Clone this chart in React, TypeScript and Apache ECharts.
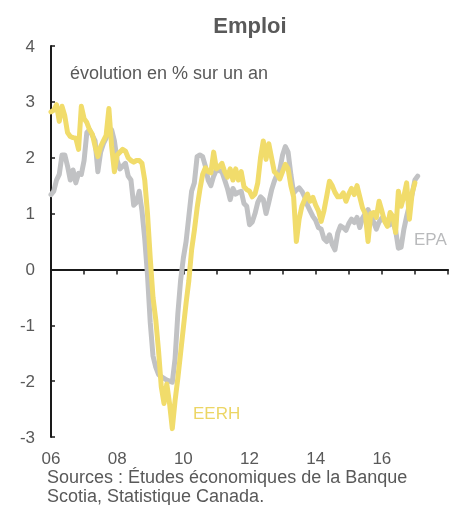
import React, { useEffect, useRef } from "react";
import * as echarts from "echarts";

// Monthly data, starting January 2006
const startYear = 2006;
const epa: number[] = [
  1.34, 1.4, 1.6, 1.7, 2.05, 2.05, 1.85, 1.6, 1.78, 1.55, 1.72, 1.7,
  1.95, 2.45, 2.5, 2.4, 2.3, 1.75, 2.1, 2.25, 2.35, 2.5, 2.5, 2.3,
  1.95, 1.8, 1.85, 1.9, 1.67, 1.6, 1.15, 1.2, 1.4, 1.05, 0.55, -0.1,
  -0.95, -1.55, -1.75, -1.88, -1.92, -1.95, -1.98, -2.0, -2.02, -1.6, -0.8, -0.2,
  0.2, 0.5, 0.95, 1.4, 1.55, 2.02, 2.05, 2.02, 1.85, 1.6, 1.5, 1.67,
  1.78, 1.77, 1.75, 1.6, 1.45, 1.25, 1.45, 1.35, 1.38, 1.4, 1.18, 1.13,
  0.8, 0.85, 1.0, 1.2, 1.3, 1.25, 1.0, 1.2, 1.42, 1.58, 1.7, 1.78,
  2.05, 2.2, 2.1, 1.7, 1.37, 1.42, 1.46, 1.4, 1.3, 1.15, 1.05, 0.95,
  0.88, 0.75, 0.72, 0.55, 0.5, 0.62, 0.45, 0.35, 0.65, 0.78, 0.75, 0.7,
  0.82, 0.9, 0.84, 0.93, 0.75, 0.92, 1.0, 1.07, 0.95, 0.85, 0.72, 0.85,
  0.92, 0.9, 0.84, 0.8, 0.86, 0.7, 0.38, 0.4, 0.72, 0.95, 1.15, 1.35,
  1.6, 1.67,
];
const eerh: number[] = [
  2.82, 2.85, 2.95, 2.65, 2.92, 2.75, 2.45, 2.38, 2.36, 2.35, 2.15, 2.92,
  2.7, 2.63, 2.5, 2.42, 2.2, 2.02, 2.2, 2.3, 2.4, 2.88, 2.2, 1.75,
  2.05, 2.1, 2.15, 2.12, 2.0, 1.95, 1.92, 1.95, 1.95, 1.9, 1.6, 1.0,
  0.2, -0.5, -0.9, -1.45, -2.1, -2.4, -2.05, -2.4, -2.85, -2.35, -1.95, -1.5,
  -1.05, -0.6, -0.2, 0.35, 0.7, 1.1, 1.43, 1.7, 1.82, 1.75, 1.73, 2.1,
  1.8, 1.84, 1.9, 1.75, 1.65, 1.8, 1.6, 1.8, 1.6, 1.75, 1.48, 1.43,
  1.4, 1.3, 1.35, 1.55, 2.0, 2.3, 1.97, 2.25, 2.0, 1.75, 1.7, 1.62,
  1.75, 1.88, 1.8, 1.5, 1.3, 0.5, 0.9, 1.13, 1.25, 1.35, 1.22, 1.29,
  1.15, 1.05, 0.86, 1.05, 1.31, 1.58, 1.5, 1.38, 1.3, 1.3, 1.37, 1.22,
  1.35, 1.45, 1.34, 1.5, 1.3, 1.1, 1.0, 0.5, 1.0, 1.02, 0.93, 1.22,
  1.05, 0.86, 0.77, 1.02, 0.95, 0.66, 1.4, 1.13, 1.31, 1.55, 0.9, 1.37,
  1.55,
];
const yearLabels: Record<number, string> = {
  2006: "06", 2008: "08", 2010: "10", 2012: "12", 2014: "14", 2016: "16",
};

const FONT = "'Liberation Sans', Arial, sans-serif";
const TEXT = "#595959";

const toPairs = (arr: number[]) => arr.map((v, i) => [startYear + i / 12, v]);

export default function App() {
  const ref = useRef<HTMLDivElement>(null);
  useEffect(() => {
    if (!ref.current) return;
    const chart = echarts.init(ref.current, undefined, { renderer: "svg" });
    chart.setOption({
      animation: false,
      grid: { left: 51, right: 12, top: 46, bottom: 68 },
      xAxis: [
        {
          type: "value",
          min: 2006,
          max: 2018,
          interval: 1,
          axisLine: { onZero: true, lineStyle: { color: "#1a1a1a", width: 2 } },
          axisTick: { show: true, length: 5, lineStyle: { color: "#1a1a1a", width: 1.5 } },
          axisLabel: { show: false },
          splitLine: { show: false },
        },
        {
          type: "value",
          position: "bottom",
          min: 2006,
          max: 2018,
          interval: 1,
          axisLine: { show: false, onZero: false },
          axisTick: { show: false },
          splitLine: { show: false },
          axisLabel: {
            show: true,
            margin: 13,
            fontSize: 17,
            lineHeight: 17,
            color: TEXT,
            fontFamily: FONT,
            formatter: (v: number) => yearLabels[Math.round(v)] || "",
          },
        },
      ],
      yAxis: {
        type: "value",
        min: -3,
        max: 4,
        interval: 1,
        axisLine: { show: true, onZero: false, lineStyle: { color: "#1a1a1a", width: 2 } },
        axisTick: { show: true, inside: true, length: 4, lineStyle: { color: "#1a1a1a", width: 1.5 } },
        axisLabel: { margin: 16, fontSize: 17, color: TEXT, fontFamily: FONT },
        splitLine: { show: false },
      },
      series: [
        {
          name: "EPA",
          type: "line",
          xAxisIndex: 0,
          data: toPairs(epa),
          showSymbol: false,
          symbol: "none",
          lineStyle: { color: "#c1c2c4", width: 5, join: "round", cap: "round" },
        },
        {
          name: "EERH",
          type: "line",
          xAxisIndex: 0,
          data: toPairs(eerh),
          showSymbol: false,
          symbol: "none",
          lineStyle: { color: "#f1dc6b", width: 5, join: "round", cap: "round" },
        },
      ],
      graphic: [
        {
          type: "text",
          x: 250,
          y: 25,
          style: {
            text: "Emploi",
            font: `bold 22px ${FONT}`,
            fill: TEXT,
            align: "center",
            verticalAlign: "middle",
          },
        },
        {
          type: "text",
          x: 70,
          y: 73,
          style: {
            text: "évolution en % sur un an",
            font: `18px ${FONT}`,
            fill: TEXT,
            align: "left",
            verticalAlign: "middle",
          },
        },
        {
          type: "text",
          x: 414,
          y: 239,
          style: {
            text: "EPA",
            font: `17px ${FONT}`,
            fill: "#b9babc",
            align: "left",
            verticalAlign: "middle",
          },
        },
        {
          type: "text",
          x: 193,
          y: 413,
          style: {
            text: "EERH",
            font: `17px ${FONT}`,
            fill: "#ecd665",
            align: "left",
            verticalAlign: "middle",
          },
        },
        {
          type: "text",
          x: 47,
          y: 468,
          style: {
            text: "Sources : Études économiques de la Banque\nScotia, Statistique Canada.",
            font: `18px ${FONT}`,
            lineHeight: 18.5,
            fill: TEXT,
            align: "left",
            verticalAlign: "top",
          },
        },
      ],
    });
    return () => chart.dispose();
  }, []);
  return (
    <div
      ref={ref}
      style={{ position: "fixed", left: 0, top: 0, width: 460, height: 505 }}
    />
  );
}
